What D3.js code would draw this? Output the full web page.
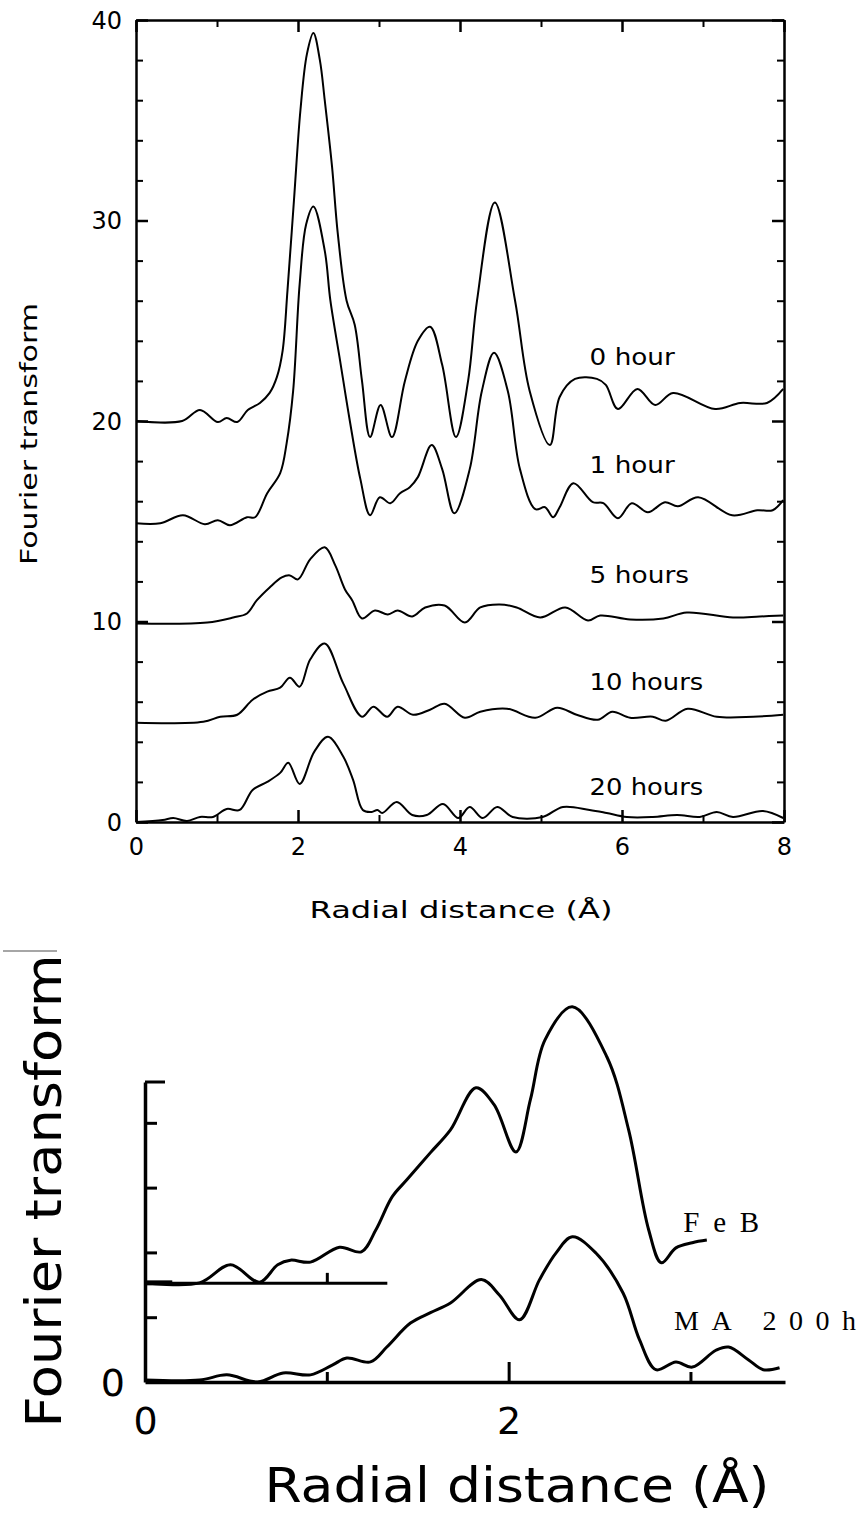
<!DOCTYPE html>
<html>
<head>
<meta charset="utf-8">
<script src="https://cdn.jsdelivr.net/npm/d3@7"></script>
<style>
  body { margin: 0; background: #fff; }
  svg text { fill: #000; }
  .axis path, .axis line { stroke: #000; }
</style>
</head>
<body>
<div id="chart"></div>
<script>
// ---- top panel: EXAFS Fourier transforms vs milling time ----
const hour0X = [0, 0.57, 0.79, 1.01, 1.12, 1.25, 1.38, 1.53, 1.65, 1.74, 1.81, 1.87, 1.95, 2.03, 2.11, 2.19, 2.27, 2.33, 2.42, 2.49, 2.60, 2.70, 2.79, 2.89, 3.02, 3.16, 3.32, 3.48, 3.63, 3.78, 3.95, 4.10, 4.21, 4.43, 4.68, 4.86, 5.11, 5.23, 5.42, 5.69, 5.80, 5.95, 6.19, 6.41, 6.63, 7.15, 7.46, 7.79, 7.99];
const hour0Y = [20.0, 20.0, 20.55, 19.95, 20.15, 19.95, 20.55, 20.9, 21.4, 22.2, 23.5, 26.5, 31.0, 35.5, 38.3, 39.35, 38.0, 36.0, 32.7, 29.4, 26.0, 24.8, 22.0, 19.2, 20.8, 19.2, 22.0, 24.0, 24.7, 22.8, 19.2, 22.0, 26.0, 30.9, 26.0, 21.5, 18.8, 21.2, 22.1, 22.1, 21.8, 20.6, 21.6, 20.8, 21.4, 20.6, 20.9, 20.9, 21.6];

const hour1X = [0, 0.30, 0.58, 0.85, 1.01, 1.16, 1.37, 1.47, 1.62, 1.78, 1.86, 1.94, 2.02, 2.10, 2.19, 2.33, 2.40, 2.52, 2.64, 2.77, 2.89, 3.01, 3.14, 3.26, 3.38, 3.48, 3.65, 3.78, 3.93, 4.12, 4.27, 4.42, 4.59, 4.74, 4.93, 5.05, 5.15, 5.23, 5.40, 5.64, 5.77, 5.95, 6.12, 6.32, 6.53, 6.69, 6.94, 7.36, 7.67, 7.86, 7.99];
const hour1Y = [14.9, 14.9, 15.3, 14.85, 15.05, 14.8, 15.2, 15.2, 16.4, 17.4, 18.9, 21.5, 26.8, 29.8, 30.7, 28.5, 26.0, 23.0, 20.0, 17.1, 15.3, 16.2, 15.9, 16.4, 16.7, 17.2, 18.8, 17.6, 15.4, 17.6, 21.5, 23.4, 21.5, 17.6, 15.6, 15.7, 15.2, 15.7, 16.9, 15.95, 15.9, 15.15, 15.9, 15.45, 15.95, 15.75, 16.2, 15.3, 15.55, 15.55, 16.05];

const hour5X = [0, 0.88, 1.20, 1.37, 1.49, 1.65, 1.80, 1.90, 2.00, 2.15, 2.33, 2.46, 2.58, 2.67, 2.79, 2.95, 3.11, 3.23, 3.41, 3.57, 3.81, 4.06, 4.25, 4.49, 4.70, 4.99, 5.30, 5.58, 5.73, 6.10, 6.51, 6.80, 7.37, 7.70, 7.99];
const hour5Y = [9.9, 9.95, 10.2, 10.4, 11.05, 11.7, 12.2, 12.3, 12.1, 13.1, 13.7, 12.8, 11.6, 11.05, 10.15, 10.55, 10.35, 10.55, 10.25, 10.7, 10.8, 9.95, 10.7, 10.85, 10.7, 10.2, 10.7, 10.05, 10.3, 10.1, 10.15, 10.45, 10.2, 10.25, 10.3];

const hour10X = [0, 0.83, 1.04, 1.25, 1.44, 1.62, 1.78, 1.90, 2.02, 2.15, 2.33, 2.56, 2.79, 2.93, 3.10, 3.23, 3.42, 3.63, 3.81, 4.06, 4.25, 4.58, 4.93, 5.20, 5.44, 5.70, 5.88, 6.10, 6.38, 6.54, 6.81, 7.17, 7.62, 7.99];
const hour10Y = [4.95, 5.0, 5.25, 5.35, 6.1, 6.5, 6.7, 7.2, 6.75, 8.1, 8.9, 6.9, 5.25, 5.75, 5.25, 5.75, 5.35, 5.6, 5.9, 5.2, 5.5, 5.65, 5.2, 5.7, 5.35, 5.1, 5.5, 5.2, 5.25, 5.05, 5.65, 5.25, 5.25, 5.35];

const hour20X = [0, 0.33, 0.46, 0.63, 0.79, 0.95, 1.12, 1.28, 1.44, 1.62, 1.78, 1.88, 2.02, 2.20, 2.37, 2.56, 2.68, 2.80, 2.91, 2.98, 3.04, 3.22, 3.41, 3.59, 3.79, 3.98, 4.12, 4.28, 4.46, 4.65, 5.02, 5.27, 5.60, 5.81, 6.06, 6.38, 6.68, 6.96, 7.17, 7.37, 7.74, 7.99];
const hour20Y = [0, 0.1, 0.2, 0.05, 0.25, 0.25, 0.65, 0.6, 1.6, 2.0, 2.45, 2.95, 1.9, 3.5, 4.25, 3.25, 2.1, 0.6, 0.5, 0.6, 0.45, 1.0, 0.35, 0.35, 0.9, 0.2, 0.75, 0.2, 0.75, 0.25, 0.25, 0.75, 0.6, 0.45, 0.25, 0.25, 0.35, 0.25, 0.5, 0.25, 0.55, 0.2];

const topLabels = ["0 hour", "1 hour", "5 hours", "10 hours", "20 hours"];
const topLabelY = [22.8, 17.4, 11.9, 6.6, 1.35];
const topYTicks = [0, 10, 20, 30, 40];
const topYMinor = [2, 4, 6, 8, 12, 14, 16, 18, 22, 24, 26, 28, 32, 34, 36, 38];
const topXTicks = [0, 2, 4, 6, 8];
const topXMinor = [1, 3, 5, 7];

// ---- bottom panel: FeB reference vs 200 h milled sample ----
const febX = [0, 0.30, 0.47, 0.63, 0.73, 0.80, 0.91, 1.07, 1.19, 1.27, 1.36, 1.44, 1.57, 1.68, 1.82, 1.92, 2.04, 2.12, 2.20, 2.35, 2.54, 2.66, 2.77, 2.84, 2.92, 3.01, 3.09];
const febY = [1.53, 1.53, 1.81, 1.54, 1.81, 1.88, 1.85, 2.08, 2.01, 2.35, 2.86, 3.12, 3.54, 3.89, 4.54, 4.28, 3.55, 4.36, 5.28, 5.79, 5.02, 3.89, 2.35, 1.84, 2.07, 2.15, 2.19];

const ma200X = [0, 0.30, 0.45, 0.62, 0.76, 0.91, 1.03, 1.11, 1.24, 1.33, 1.46, 1.57, 1.68, 1.85, 1.95, 2.06, 2.17, 2.26, 2.35, 2.48, 2.63, 2.72, 2.81, 2.92, 3.01, 3.14, 3.21, 3.32, 3.40, 3.49];
const ma200Y = [0.03, 0.03, 0.11, 0, 0.14, 0.11, 0.26, 0.37, 0.31, 0.54, 0.91, 1.07, 1.22, 1.58, 1.34, 0.96, 1.58, 1.99, 2.24, 1.99, 1.37, 0.65, 0.19, 0.31, 0.23, 0.49, 0.54, 0.34, 0.19, 0.22];

const febBaseline = 1.53;
const botYTicks = [1, 2, 3, 4];
const botXTicks = [0, 2];
const botXMinor = [1, 3];

const width = 859, height = 1516;
const sans = "'DejaVu Sans', sans-serif";
const serif = "'Liberation Serif', 'DejaVu Serif', serif";

const svg = d3.select("#chart").append("svg")
    .attr("width", width)
    .attr("height", height)
    .style("font-family", sans);

const toPoints = (xs, ys) => xs.map((d, i) => [d, ys[i]]);

function axisGroup(parent, axis, transform, sw) {
    const g = parent.append("g")
        .attr("class", "axis")
        .attr("transform", transform)
        .call(axis);
    g.selectAll("line").attr("stroke-width", sw);
    g.selectAll("text").style("font-family", sans);
    return g;
}

// ========== top panel ==========
const x1 = d3.scaleLinear().domain([0, 8]).range([136, 784]);
const y1 = d3.scaleLinear().domain([0, 40]).range([822, 20]);

const line1 = d3.line()
    .x(d => x1(d[0]))
    .y(d => y1(d[1]))
    .curve(d3.curveCatmullRom.alpha(0.5));

const topG = svg.append("g");

// minor ticks first, then the major ones
axisGroup(topG, d3.axisLeft(y1).tickValues(topYMinor).tickSize(-7).tickSizeOuter(0).tickFormat(""), `translate(${x1(0)},0)`, 2)
    .select(".domain").remove();
axisGroup(topG, d3.axisRight(y1).tickValues(topYMinor).tickSize(-7).tickSizeOuter(0).tickFormat(""), `translate(${x1(8)},0)`, 2)
    .select(".domain").remove();
axisGroup(topG, d3.axisBottom(x1).tickValues(topXMinor).tickSize(-7).tickSizeOuter(0).tickFormat(""), `translate(0,${y1(0)})`, 2)
    .select(".domain").remove();
axisGroup(topG, d3.axisTop(x1).tickValues(topXMinor).tickSize(-7).tickSizeOuter(0).tickFormat(""), `translate(0,${y1(40)})`, 2)
    .select(".domain").remove();

const yl = axisGroup(topG, d3.axisLeft(y1).tickValues(topYTicks).tickSize(-12).tickSizeOuter(0).tickPadding(14), `translate(${x1(0)},0)`, 2.5);
const yr = axisGroup(topG, d3.axisRight(y1).tickValues(topYTicks).tickSize(-12).tickSizeOuter(0).tickFormat(""), `translate(${x1(8)},0)`, 2.5);
const xb = axisGroup(topG, d3.axisBottom(x1).tickValues(topXTicks).tickSize(-12).tickSizeOuter(0).tickPadding(14), `translate(0,${y1(0)})`, 2.5);
const xt = axisGroup(topG, d3.axisTop(x1).tickValues(topXTicks).tickSize(-12).tickSizeOuter(0).tickFormat(""), `translate(0,${y1(40)})`, 2.5);
[yl, yr, xb, xt].forEach(g => g.select(".domain").attr("stroke-width", 2.5));
yl.selectAll("text").attr("font-size", 24).attr("dy", "0.35em");
xb.selectAll("text").attr("font-size", 24).attr("dy", "0.8em");

const topSeries = [
    toPoints(hour0X, hour0Y),
    toPoints(hour1X, hour1Y),
    toPoints(hour5X, hour5Y),
    toPoints(hour10X, hour10Y),
    toPoints(hour20X, hour20Y)
];

topG.selectAll(".curve")
    .data(topSeries)
    .join("path")
    .attr("class", "curve")
    .attr("d", line1)
    .attr("fill", "none")
    .attr("stroke", "#000")
    .attr("stroke-width", 2)
    .attr("stroke-linejoin", "round");

topG.selectAll(".lbl")
    .data(topLabels)
    .join("text")
    .attr("class", "lbl")
    .attr("x", x1(5.6))
    .attr("y", (d, i) => y1(topLabelY[i]))
    .attr("font-size", 23)
    .attr("textLength", d => d.length * 14.2)
    .attr("lengthAdjust", "spacingAndGlyphs")
    .text(d => d);

topG.append("text")
    .attr("transform", "translate(37,434) rotate(-90)")
    .attr("text-anchor", "middle")
    .attr("font-size", 23)
    .attr("textLength", 262)
    .attr("lengthAdjust", "spacingAndGlyphs")
    .text("Fourier transform");

topG.append("text")
    .attr("x", 461)
    .attr("y", 918)
    .attr("text-anchor", "middle")
    .attr("font-size", 23)
    .attr("textLength", 303)
    .attr("lengthAdjust", "spacingAndGlyphs")
    .text("Radial distance (Å)");

// ========== bottom panel ==========
const x2 = d3.scaleLinear().domain([0, 3.52]).range([145, 785]);
const y2 = d3.scaleLinear().domain([0, 4.63]).range([1382, 1082]);

const line2 = d3.line()
    .x(d => x2(d[0]))
    .y(d => y2(d[1]))
    .curve(d3.curveCatmullRom.alpha(0.5));

const botG = svg.append("g");

const by = axisGroup(botG, d3.axisLeft(y2).tickValues(botYTicks).tickSize(-12).tickSizeOuter(0).tickFormat(""), `translate(${x2(0)},0)`, 3);
by.select(".domain").attr("stroke-width", 3.5);
// cap at the top of the y axis
botG.append("line")
    .attr("x1", x2(0)).attr("x2", x2(0) + 20)
    .attr("y1", y2(4.63)).attr("y2", y2(4.63))
    .attr("stroke", "#000").attr("stroke-width", 3);

const bxMinor = axisGroup(botG, d3.axisBottom(x2).tickValues(botXMinor).tickSize(-10).tickSizeOuter(0).tickFormat(""), `translate(0,${y2(0)})`, 3);
bxMinor.select(".domain").remove();
const bx = axisGroup(botG, d3.axisBottom(x2).tickValues(botXTicks).tickSize(-20).tickSizeOuter(0).tickPadding(22).tickFormat(d3.format("d")), `translate(0,${y2(0)})`, 3);
bx.select(".domain").attr("stroke-width", 3.5);
bx.selectAll("text").attr("font-size", 38).attr("dy", "0.8em");

botG.append("text")
    .attr("x", x2(0) - 20)
    .attr("y", y2(0) + 14)
    .attr("text-anchor", "end")
    .attr("font-size", 38)
    .text("0");

// FeB curve sits on its own shifted baseline
const xFeb = x2.copy().domain([0, 1.33]).range([x2(0), x2(1.33)]);
const febAxis = axisGroup(botG, d3.axisBottom(xFeb).tickValues([1]).tickSize(-10).tickSizeOuter(0).tickFormat(""), `translate(0,${y2(febBaseline)})`, 3);
febAxis.select(".domain").attr("stroke-width", 3);
botG.append("line")
    .attr("x1", x2(0)).attr("x2", x2(0.15))
    .attr("y1", y2(febBaseline)).attr("y2", y2(febBaseline))
    .attr("stroke", "#000").attr("stroke-width", 5);

botG.selectAll(".curve")
    .data([toPoints(febX, febY), toPoints(ma200X, ma200Y)])
    .join("path")
    .attr("class", "curve")
    .attr("d", line2)
    .attr("fill", "none")
    .attr("stroke", "#000")
    .attr("stroke-width", 3)
    .attr("stroke-linejoin", "round");

botG.append("text")
    .attr("x", x2(2.96))
    .attr("y", y2(2.32))
    .style("font-family", serif)
    .attr("font-size", 29)
    .attr("textLength", 76)
    .attr("lengthAdjust", "spacing")
    .text("FeB");

botG.append("text")
    .attr("x", x2(2.91))
    .attr("y", y2(0.8))
    .style("font-family", serif)
    .attr("font-size", 28)
    .attr("textLength", 182)
    .attr("lengthAdjust", "spacing")
    .text("MA 200h");

botG.append("text")
    .attr("transform", "translate(61,1191) rotate(-90)")
    .attr("text-anchor", "middle")
    .attr("font-size", 50)
    .attr("textLength", 473)
    .attr("lengthAdjust", "spacingAndGlyphs")
    .text("Fourier transform");

botG.append("text")
    .attr("x", 517)
    .attr("y", 1502)
    .attr("text-anchor", "middle")
    .attr("font-size", 48)
    .attr("textLength", 505)
    .attr("lengthAdjust", "spacingAndGlyphs")
    .text("Radial distance (Å)");

// faint scan mark above the lower title
svg.append("line")
    .attr("x1", 3).attr("x2", 57)
    .attr("y1", 951).attr("y2", 951)
    .attr("stroke", "#888").attr("stroke-width", 1.5);
</script>
</body>
</html>
